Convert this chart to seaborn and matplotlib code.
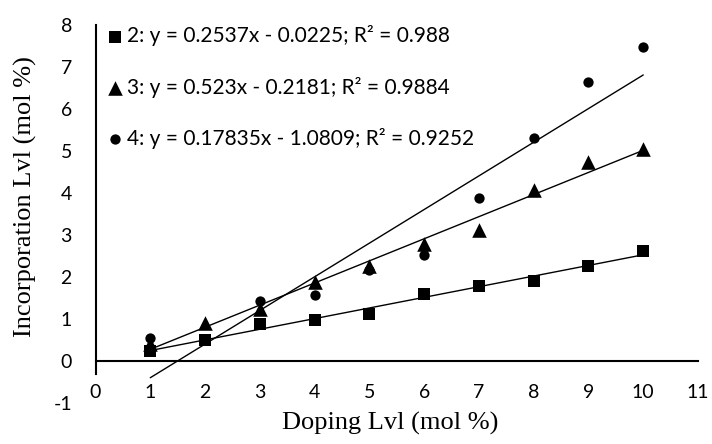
import numpy as np
import pandas as pd
import matplotlib
matplotlib.use("Agg")
import matplotlib.pyplot as plt
import seaborn as sns

# Doping level (mol %) for every series
doping = [1, 2, 3, 4, 5, 6, 7, 8, 9, 10]

# Incorporation level (mol %) for the three series
series_2 = [0.24, 0.50, 0.87, 0.98, 1.13, 1.60, 1.79, 1.90, 2.26, 2.62]
series_3 = [0.41, 0.91, 1.25, 1.88, 2.26, 2.79, 3.12, 4.06, 4.74, 5.05]
series_4 = [0.54, 0.50, 1.44, 1.57, 2.16, 2.52, 3.89, 5.32, 6.64, 7.48]

labels = [
    "2: y = 0.2537x - 0.0225; R\u00b2 = 0.988",
    "3: y = 0.523x - 0.2181; R\u00b2 = 0.9884",
    "4: y = 0.17835x - 1.0809; R\u00b2 = 0.9252",
]
markers = ["s", "^", "o"]
marker_sizes = [80, 110, 55]

x_ticks = list(range(0, 12))
y_ticks = list(range(-1, 9))

sns.set_theme(style="white")
plt.rcParams["font.family"] = ["Lato", "DejaVu Sans"]
plt.rcParams["axes.unicode_minus"] = False

W, H = 712, 444
fig = plt.figure(figsize=(W / 100, H / 100), dpi=100)
ax = fig.add_axes([95.5 / W, (H - 403) / H, (698 - 95.5) / W, (403 - 25) / H])

frames = []
for name, vals in zip(["2", "3", "4"], [series_2, series_3, series_4]):
    frames.append(pd.DataFrame({"doping": doping, "incorp": vals, "series": name}))
df = pd.concat(frames, ignore_index=True)

for (name, sub), mk, ms, lab in zip(df.groupby("series", sort=False), markers, marker_sizes, labels):
    sns.regplot(
        data=sub, x="doping", y="incorp", ax=ax, ci=None, truncate=True,
        marker=mk, color="black", label=lab,
        scatter_kws={"s": ms, "linewidths": 0, "alpha": 1},
        line_kws={"linewidth": 1.0, "color": "black"},
    )

ax.set_xlim(0, 11)
ax.set_ylim(-1, 8)
ax.set_xticks(x_ticks)
ax.set_yticks(y_ticks)
ax.set_xlabel("")
ax.set_ylabel("")

for side in ["top", "right"]:
    ax.spines[side].set_visible(False)
ax.spines["bottom"].set_position(("data", 0))
ax.spines["left"].set_bounds(-0.31, 8)
for side in ["bottom", "left"]:
    ax.spines[side].set_color("black")
    ax.spines[side].set_linewidth(1.5)

ax.tick_params(axis="x", length=0, pad=16.5, labelsize=14, colors="black")
ax.tick_params(axis="y", length=0, pad=17, labelsize=14, colors="black")

serif = ["Liberation Serif", "DejaVu Serif"]
fig.text(25 / W, 1 - 197 / H, "Incorporation Lvl (mol %)", rotation=90,
         ha="center", va="center", fontsize=19, family=serif, color="black")
fig.text(390 / W, 1 - 423 / H, "Doping Lvl (mol %)",
         ha="center", va="center", fontsize=19, family=serif, color="black")

leg = ax.legend(
    loc="upper left", bbox_to_anchor=(108.7 / W, 1 - 25.5 / H),
    bbox_transform=fig.transFigure, frameon=False, fontsize=15,
    borderpad=0, borderaxespad=0, handlelength=0.6, handletextpad=0.3,
    labelspacing=1.45,
)
for t in leg.get_texts():
    t.set_color("black")

fig.savefig("out.png", dpi=100)
